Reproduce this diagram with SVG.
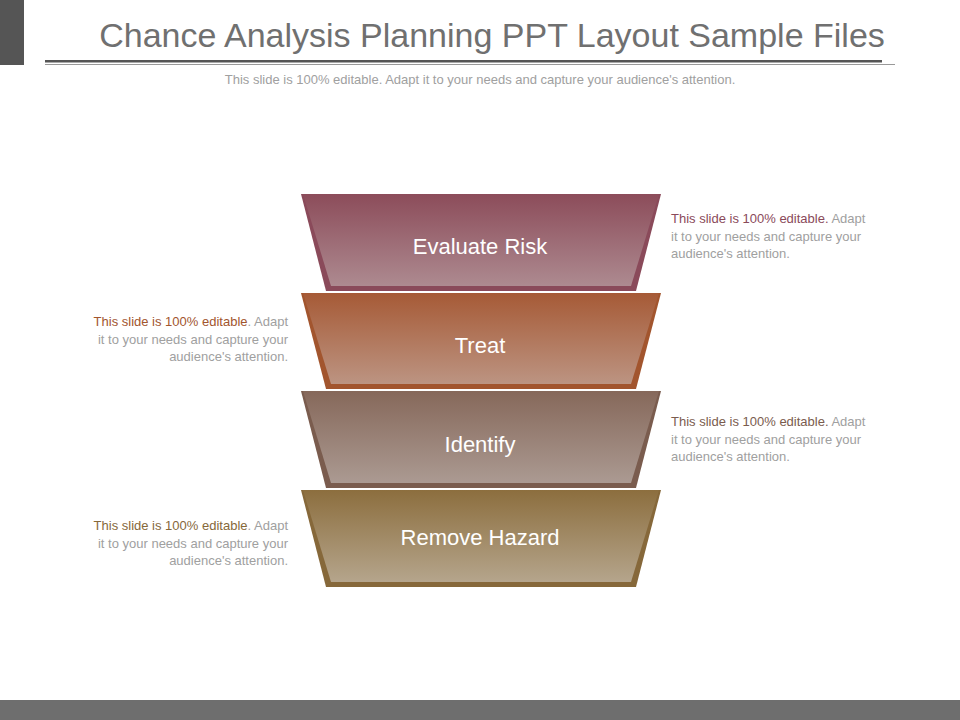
<svg xmlns="http://www.w3.org/2000/svg" width="960" height="720" viewBox="0 0 960 720">
<defs>
<linearGradient id="g1" x1="0" y1="0" x2="0" y2="1"><stop offset="0" stop-color="#8c4c5a"/><stop offset="1" stop-color="#ad8a90"/></linearGradient>
<linearGradient id="g2" x1="0" y1="0" x2="0" y2="1"><stop offset="0" stop-color="#a65a36"/><stop offset="1" stop-color="#bc9482"/></linearGradient>
<linearGradient id="g3" x1="0" y1="0" x2="0" y2="1"><stop offset="0" stop-color="#86685a"/><stop offset="1" stop-color="#ab9a92"/></linearGradient>
<linearGradient id="g4" x1="0" y1="0" x2="0" y2="1"><stop offset="0" stop-color="#8c6e3e"/><stop offset="1" stop-color="#b5a58c"/></linearGradient>
<style>
.lbl{font-family:"Liberation Sans",Arial,sans-serif;font-size:22px;fill:#fff;text-anchor:middle}
.d{font-family:"Liberation Sans",Arial,sans-serif;font-size:13px;fill:#a0a0a0}
</style>
</defs>
<rect x="0" y="0" width="24" height="65" fill="#555"/>
<text x="492" y="47" font-family="Liberation Sans,Arial,sans-serif" font-size="34" fill="#707070" text-anchor="middle">Chance Analysis Planning PPT Layout Sample Files</text>
<rect x="45" y="60" width="837" height="2.5" fill="#555"/>
<rect x="45" y="64" width="850" height="1" fill="#999"/>
<text x="480" y="84" class="d" font-size="12.5" text-anchor="middle" fill="#aaa">This slide is 100% editable. Adapt it to your needs and capture your audience's attention.</text>
<g id="n1">
<polygon points="301,194 661,194 636,291 326,291" fill="#8a4a5a"/>
<polygon points="303,194 659,194 631,286 331,286" fill="url(#g1)"/>
<text x="480" y="254" class="lbl">Evaluate Risk</text>
</g>
<g id="n2">
<polygon points="301,293 661,293 636,389 326,389" fill="#a2552e"/>
<polygon points="303,293 659,293 631,384 331,384" fill="url(#g2)"/>
<text x="480" y="353" class="lbl">Treat</text>
</g>
<g id="n3">
<polygon points="301,391 661,391 636,488 326,488" fill="#7a5c4e"/>
<polygon points="303,391 659,391 631,483 331,483" fill="url(#g3)"/>
<text x="480" y="452" class="lbl">Identify</text>
</g>
<g id="n4">
<polygon points="301,490 661,490 636,587 326,587" fill="#86683a"/>
<polygon points="303,490 659,490 631,582 331,582" fill="url(#g4)"/>
<text x="480" y="545" class="lbl">Remove Hazard</text>
</g>
<g id="t1" class="d"><text x="671" y="223"><tspan fill="#8a4a5a">This slide is 100% editable.</tspan> Adapt</text><text x="671" y="241">it to your needs and capture your</text><text x="671" y="258">audience's attention.</text></g>
<g id="t2" class="d" text-anchor="end"><text x="288" y="326"><tspan fill="#a2552e">This slide is 100% editable</tspan>. Adapt</text><text x="288" y="344">it to your needs and capture your</text><text x="288" y="361">audience's attention.</text></g>
<g id="t3" class="d"><text x="671" y="426"><tspan fill="#7a5c4e">This slide is 100% editable.</tspan> Adapt</text><text x="671" y="444">it to your needs and capture your</text><text x="671" y="461">audience's attention.</text></g>
<g id="t4" class="d" text-anchor="end"><text x="288" y="530"><tspan fill="#86683a">This slide is 100% editable</tspan>. Adapt</text><text x="288" y="548">it to your needs and capture your</text><text x="288" y="565">audience's attention.</text></g>
<g id="connectors"/>
<rect x="0" y="700" width="960" height="20" fill="#6e6e6e"/>
</svg>
